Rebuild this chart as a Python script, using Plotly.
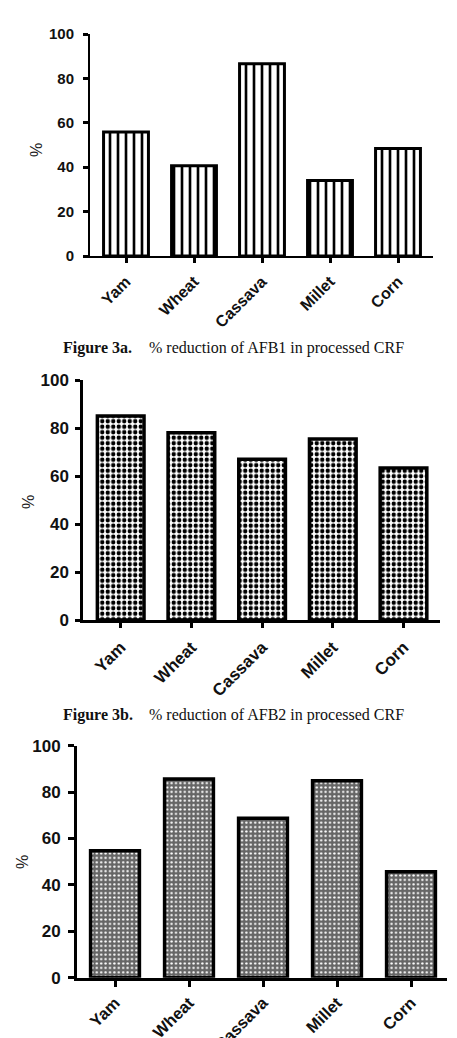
import plotly.graph_objects as go

W, H = 457, 1038

categories = ["Yam", "Wheat", "Cassava", "Millet", "Corn"]
afb1_reduction = [55.8, 40.7, 86.6, 34.0, 48.4]   # Figure 3a
afb2_reduction = [85.0, 78.0, 67.0, 75.4, 63.3]   # Figure 3b
third_reduction = [54.7, 85.6, 68.7, 84.9, 45.7]  # third panel
y_ticks = [0, 20, 40, 60, 80, 100]

caption_a_bold = "Figure 3a."
caption_a_text = "% reduction of AFB1 in processed CRF"
caption_b_bold = "Figure 3b."
caption_b_text = "% reduction of AFB2 in processed CRF"

def px_x(v):
    return v / W

def px_y(v):
    return 1 - v / H

fig = go.Figure()

panels = [
    dict(vals=afb1_reduction,
         pattern=dict(shape="|", fgcolor="#000000", bgcolor="#ffffff", size=8, solidity=0.33, fillmode="replace"),
         xl=90, xr=433, t0=126, sp=68, y0=256, y100=34, lw=3, axw=2, tickw=2.5, tl=5,
         tfs=15, xfs=16, standoff=6, xstand=3),
    dict(vals=afb2_reduction,
         pattern=dict(shape=".", fgcolor="#000000", bgcolor="#ffffff", size=5.5, solidity=0.5, fillmode="replace"),
         xl=83, xr=440, t0=120.7, sp=70.7, y0=620, y100=380, lw=3.5, axw=2.5, tickw=2.5, tl=5,
         tfs=17, xfs=17, standoff=3, xstand=3),
    dict(vals=third_reduction,
         pattern=dict(shape=".", fgcolor="#ffffff", bgcolor="#666666", size=4.4, solidity=0.22, fillmode="replace"),
         xl=77, xr=447, t0=115, sp=74, y0=977.7, y100=745.7, lw=3.5, axw=3, tickw=3, tl=6,
         tfs=17, xfs=16.5, standoff=4, xstand=0),
]

layout = dict(
    width=W, height=H,
    margin=dict(l=0, r=0, t=0, b=0, autoexpand=False),
    paper_bgcolor="white", plot_bgcolor="white",
    showlegend=False,
    font=dict(family="Liberation Sans", color="#111111"),
)

for i, p in enumerate(panels, start=1):
    xa = "x" if i == 1 else f"x{i}"
    ya = "y" if i == 1 else f"y{i}"
    fig.add_trace(go.Bar(
        x=categories, y=p["vals"], xaxis=xa, yaxis=ya,
        width=0.66,
        marker=dict(color="white", pattern=p["pattern"],
                    line=dict(color="#000000", width=p["lw"])),
        hoverinfo="skip",
    ))
    start = -(p["t0"] - p["xl"]) / p["sp"]
    end = start + (p["xr"] - p["xl"]) / p["sp"]
    key_x = "xaxis" if i == 1 else f"xaxis{i}"
    key_y = "yaxis" if i == 1 else f"yaxis{i}"
    layout[key_x] = dict(
        domain=[px_x(p["xl"]), px_x(p["xr"])],
        anchor=ya, range=[start, end], automargin=False,
        showline=True, linecolor="#000000", linewidth=p["axw"],
        ticks="outside", ticklen=p["tl"], tickwidth=p["tickw"], tickcolor="#000000",
        ticklabelstandoff=p["xstand"],
        tickangle=-45, showgrid=False, zeroline=False,
        tickfont=dict(family="Liberation Sans", size=p["xfs"], color="#111111", weight="bold"),
        fixedrange=True,
    )
    layout[key_y] = dict(
        domain=[px_y(p["y0"]), px_y(p["y100"])],
        anchor=xa, range=[0, 100], automargin=False,
        tickvals=y_ticks,
        showline=True, linecolor="#000000", linewidth=p["axw"],
        ticks="outside", ticklen=p["tl"], tickwidth=p["tickw"], tickcolor="#000000",
        ticklabelstandoff=p["standoff"],
        showgrid=False, zeroline=False,
        tickfont=dict(family="Liberation Sans", size=p["tfs"], color="#111111", weight="bold"),
        fixedrange=True,
    )

annotations = []
for (xp, yp) in [(37, 150), (29, 502), (22, 862)]:
    annotations.append(dict(
        x=px_x(xp), y=px_y(yp), xref="paper", yref="paper",
        text="%", textangle=-90, showarrow=False,
        font=dict(family="Liberation Sans", size=16, color="#222222"),
        xanchor="center", yanchor="middle",
    ))

for (yp, bold, txt) in [(348, caption_a_bold, caption_a_text), (715, caption_b_bold, caption_b_text)]:
    annotations.append(dict(
        x=px_x(61), y=px_y(yp), xref="paper", yref="paper",
        text="<b>" + bold + "</b>", showarrow=False,
        font=dict(family="Liberation Serif", size=16, color="#111111"),
        xanchor="left", yanchor="middle",
    ))
    annotations.append(dict(
        x=px_x(147), y=px_y(yp), xref="paper", yref="paper",
        text=txt, showarrow=False,
        font=dict(family="Liberation Serif", size=16, color="#111111"),
        xanchor="left", yanchor="middle",
    ))

layout["annotations"] = annotations
fig.update_layout(**layout)

fig.write_html("out.html", config=dict(displayModeBar=False))
